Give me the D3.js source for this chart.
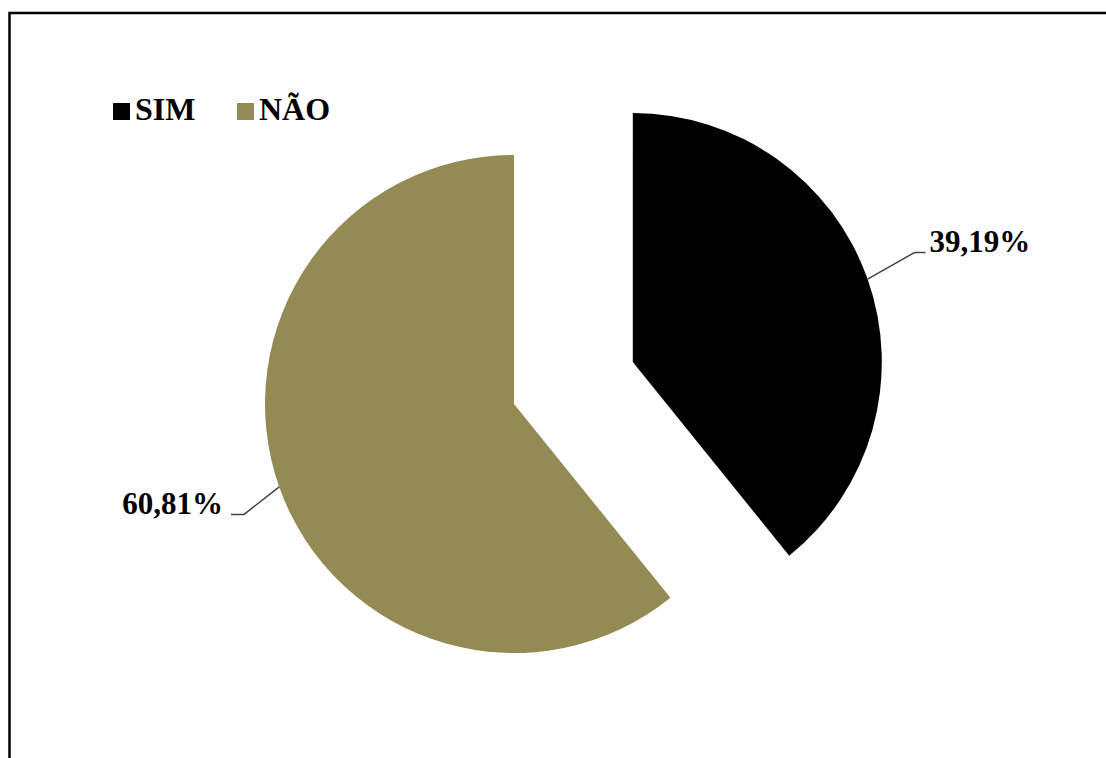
<!doctype html>
<html lang="pt">
<head>
  <meta charset="utf-8" />
  <title>SIM / NÃO</title>
  <script src="https://cdn.jsdelivr.net/npm/d3@7"></script>
  <style>
    body { margin: 0; background: #fff; }
    svg text { font-family: "Liberation Serif", "Times New Roman", serif; font-weight: bold; }
  </style>
</head>
<body>
<script>
  // data
  var categories = ["SIM", "NÃO"];
  var values = [39.19, 60.81];
  var labels = ["39,19%", "60,81%"];
  var colors = ["#000000", "#948a54"];

  var width = 1106, height = 758;
  var cx = 514, cy = 404, radius = 249;
  var explode = 126; // SIM slice pulled out

  var svg = d3.select("body").append("svg")
    .attr("width", width)
    .attr("height", height);

  // chart frame (right and bottom sides run off the picture)
  svg.append("rect")
    .attr("x", 9.5).attr("y", 13)
    .attr("width", 1200).attr("height", 900)
    .attr("fill", "none")
    .attr("stroke", "#000")
    .attr("stroke-width", 2.5);

  var data = categories.map(function(c, i) {
    return { name: c, value: values[i], label: labels[i], color: colors[i] };
  });

  var pie = d3.pie()
    .sort(null)
    .value(function(d) { return d.value; });

  var arc = d3.arc()
    .innerRadius(0)
    .outerRadius(radius);

  var arcs = pie(data);

  function offset(d) {
    if (d.data.name !== "SIM") return [0, 0];
    var a = (d.startAngle + d.endAngle) / 2;
    return [Math.sin(a) * explode, -Math.cos(a) * explode];
  }

  var g = svg.append("g")
    .attr("transform", "translate(" + cx + "," + cy + ")");

  var slice = g.selectAll(".slice")
    .data(arcs)
    .enter().append("g")
    .attr("class", "slice")
    .attr("transform", function(d) {
      var o = offset(d);
      return "translate(" + o[0] + "," + o[1] + ")";
    });

  slice.append("path")
    .attr("d", arc)
    .attr("fill", function(d) { return d.data.color; });

  // leader lines + labels
  slice.each(function(d) {
    var a = (d.startAngle + d.endAngle) / 2;
    var right = Math.sin(a) > 0;
    var k = right ? 1.2 : 1.15;
    var p0 = [Math.sin(a) * radius, -Math.cos(a) * radius];
    var p1 = [Math.sin(a) * radius * k, -Math.cos(a) * radius * k - (right ? 10 : -15)];
    var p2 = [p1[0] + (right ? 11 : -13), p1[1]];
    d3.select(this).append("polyline")
      .attr("points", [p0, p1, p2].map(function(p) { return p.join(","); }).join(" "))
      .attr("fill", "none")
      .attr("stroke", "#444")
      .attr("stroke-width", 1.5);
    d3.select(this).append("text")
      .attr("x", p2[0] + (right ? 4 : -8))
      .attr("y", p2[1])
      .attr("text-anchor", right ? "start" : "end")
      .attr("font-size", 31)
      .attr("fill", "#000")
      .text(d.data.label);
  });

  // legend
  var legendX = [113, 237];
  var legend = svg.selectAll(".legend")
    .data(data)
    .enter().append("g")
    .attr("class", "legend")
    .attr("transform", function(d, i) { return "translate(" + legendX[i] + ",103)"; });

  legend.append("rect")
    .attr("width", 17).attr("height", 17)
    .attr("fill", function(d) { return d.color; });

  legend.append("text")
    .attr("x", 22)
    .attr("y", 17)
    .attr("font-size", 32)
    .attr("fill", "#000")
    .text(function(d) { return d.name; });
</script>
</body>
</html>
